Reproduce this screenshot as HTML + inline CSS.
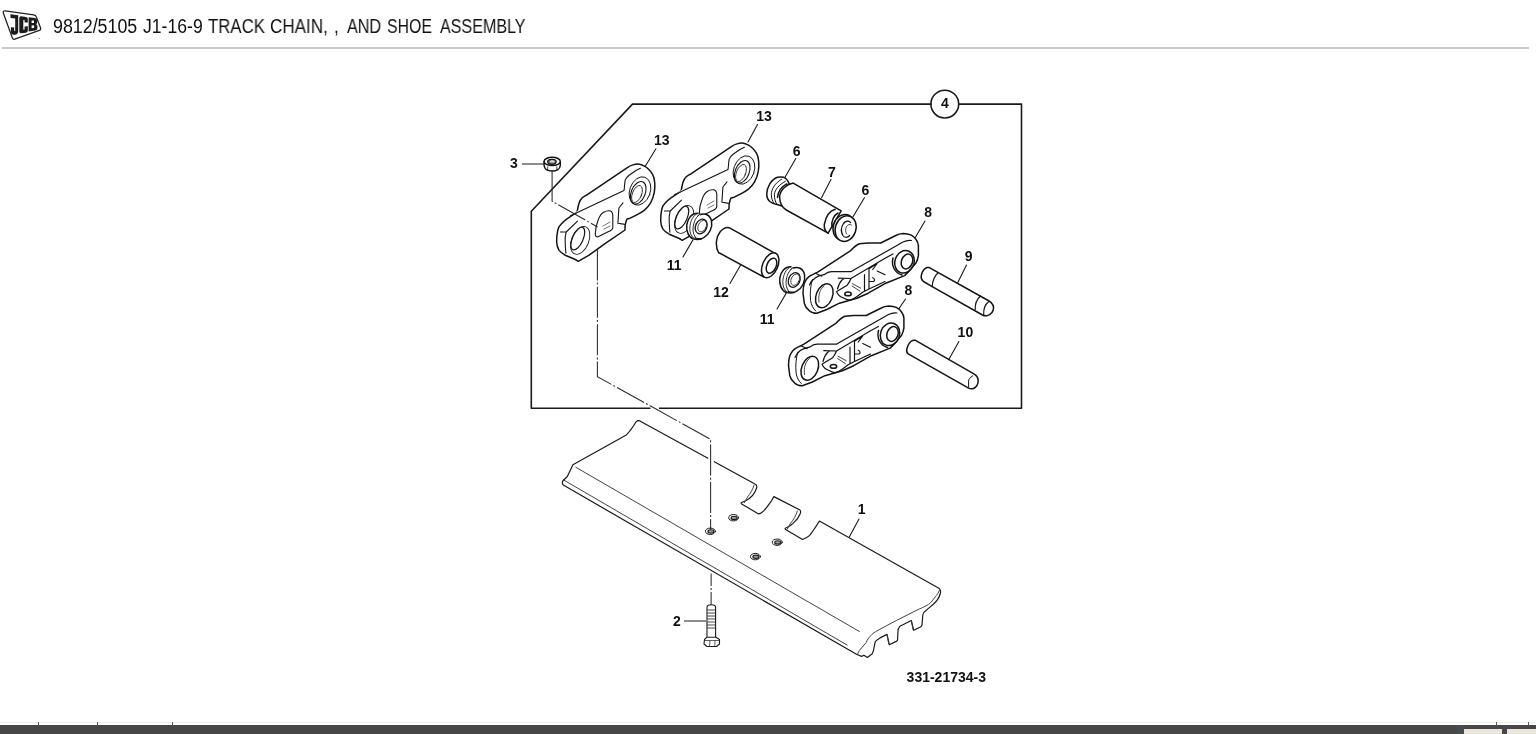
<!DOCTYPE html>
<html><head><meta charset="utf-8">
<style>
html,body{margin:0;padding:0;background:#fff;width:1536px;height:734px;overflow:hidden;position:relative;font-family:"Liberation Sans",sans-serif;}
.tw{position:absolute;top:14.3px;font-size:17.33px;line-height:20px;color:#111;white-space:nowrap;transform-origin:0 0;will-change:transform;}
#hr{position:absolute;left:2px;top:47px;width:1527px;height:2px;background:#c9cac3;}
#bar{position:absolute;left:0;top:725px;width:1536px;height:9px;background:#474747;}
#bl{position:absolute;left:0;top:722px;width:1536px;height:1px;background:#ececec;}
.tk{position:absolute;top:722px;width:1px;height:4px;background:#555;}
.bx{position:absolute;top:729px;height:5px;background:#ebe6da;}
svg{position:absolute;left:0;top:0;}
svg{will-change:transform;}
.t{font-family:"Liberation Sans",sans-serif;font-weight:bold;font-size:14px;fill:#111;}
</style></head><body>
<div class="tw" style="left:53.37px;transform:scale(1.029,1.167)">9812/5105</div>
<div class="tw" style="left:143.40px;transform:scale(1.016,1.167)">J1-16-9</div>
<div class="tw" style="left:207.80px;transform:scale(0.969,1.167)">TRACK</div>
<div class="tw" style="left:270.02px;transform:scale(0.984,1.167)">CHAIN,</div>
<div class="tw" style="left:333.90px;transform:scale(1.000,1.167)">,</div>
<div class="tw" style="left:347.00px;transform:scale(0.933,1.167)">AND</div>
<div class="tw" style="left:387.48px;transform:scale(0.917,1.167)">SHOE</div>
<div class="tw" style="left:440.10px;transform:scale(0.928,1.167)">ASSEMBLY</div>
<div id="hr"></div>
<div id="bl"></div>
<div id="bar"></div>
<div class="tk" style="left:38px"></div>
<div class="tk" style="left:97px"></div>
<div class="tk" style="left:172px"></div>
<div class="tk" style="left:1496px"></div>
<div class="tk" style="left:1528px"></div>
<div class="bx" style="left:1457px;width:7px;top:725px;height:9px;background:#484b4f"></div>
<div class="bx" style="left:1464px;width:38px"></div>
<div class="bx" style="left:1507px;width:29px"></div>
<svg width="1536" height="734" viewBox="0 0 1536 734">
<!-- JCB logo -->
<g>
<path d="M5.3,10.8 L33.6,14.9 Q35.8,15.3 36.4,17 L40.6,28 Q41.2,29.8 39.4,30.4 L14.8,39.2 Q13,39.8 12.4,38 L3.3,13 Q2.8,10.5 5.3,10.8 Z" fill="#fff" stroke="#222" stroke-width="1.25"/>
<g fill="#1c1c1c" fill-rule="evenodd">
<path d="M10.3,14.2 L18.2,15.3 L18.2,31 Q18.2,34.6 14.8,34.8 L13.2,34.8 Q10.8,34.6 10.9,32 L10.9,27.2 L14.2,27.6 L14.2,30.6 Q14.2,31.3 14.8,31.3 Q15.2,31.3 15.2,30.5 L15.2,18.5 L10.6,17.9 Z"/>
<path d="M21,16.3 L26.2,16.9 Q27.8,17.1 27.8,19 L27.8,22.4 L24.6,22.6 L24.6,20.2 Q24.6,19.8 24,19.8 Q23.3,19.8 23.3,20.4 L23.3,29.2 Q23.3,29.8 24,29.8 Q24.6,29.8 24.6,29.1 L24.6,26.6 L27.8,26.2 L27.8,30.8 Q27.8,32.5 26,32.7 L21,33.3 Q19.3,33.5 19.3,31.5 L19.3,18.3 Q19.3,16.1 21,16.3 Z"/>
<path d="M28.6,17.3 L35,18 Q37.2,18.3 37.2,20.8 L37.2,22.5 Q37.2,23.8 36,24.3 Q37.4,24.8 37.4,26.3 L37.4,28.5 Q37.4,30.2 35.4,30.5 L28.6,31.4 Z M31.6,20.4 L33.4,20.6 Q34,20.7 34,21.4 L34,22.4 Q34,23 33.3,23 L31.6,23.1 Z M31.6,25.5 L33.5,25.3 Q34.2,25.3 34.2,26 L34.2,27.3 Q34.2,28 33.5,28.1 L31.6,28.3 Z"/>
</g>
<circle cx="39.2" cy="38.4" r="0.6" fill="#888"/>
</g>
<g fill="none" stroke="#1a1a1a" stroke-width="1.6" stroke-linejoin="round" stroke-linecap="round">
<!-- frame -->
<path d="M931,104.1 L632.5,104.1 L531.3,211.3 L531.3,408.3 L1021.5,408.3 L1021.5,104.1 L958.7,104.1"/>
<circle cx="944.8" cy="104.1" r="13.9"/>
</g>
<g fill="none" stroke="#1a1a1a" stroke-width="1.1" stroke-linejoin="round" stroke-linecap="round">
<!-- leaders -->
<path d="M522.3,164 L544,164 M655.9,148.8 L645.3,166.3 M757.5,124.5 L748,142 M795.8,158.6 L784.3,178.6 M831,179.6 L821.5,197.7 M864.4,197.7 L853,216.8 M925,221 L915,238 M905.5,299 L896,313 M966.5,265.1 L957.8,282.5 M958.9,341.4 L949.1,358.9 M683,257 L692.8,240.1 M730,283.5 L740.6,264.9 M777,309 L786.7,292.4 M859,519 L849.4,536.8 M684.5,621 L705.6,621"/>
</g>
<g id="parts" fill="#fff" stroke="#141414" stroke-width="1.5" stroke-linejoin="round" stroke-linecap="round">
<!-- nut 3 -->
<path d="M544.1,161.5 L544.1,165.5 C544.5,169 548,171 552.2,171 C556.5,171 560,169 560.3,165.5 L560.3,161.5"/>
<ellipse cx="552.2" cy="161.4" rx="8.1" ry="4.1"/>
<ellipse cx="551.9" cy="161.8" rx="4.3" ry="2.5" fill="#777" stroke-width="1.2"/>
<ellipse cx="552.3" cy="161.4" rx="2.4" ry="1.2" fill="#d8d8d8" stroke="none"/>
<path d="M547.8,166.8 L547.6,170.2 M556.8,166.8 L557,170.2" stroke-width="0.8"/>
<!-- link 13 (left) -->
<g id="l13">
<path d="M570.7,216.4 L577,212.1 C578,208 578.3,205 579.1,202.9 C580,200.5 581,199 582.2,197.8 C584,196.2 585.5,195.4 587.3,194.7 L628.1,167.2 C629.5,166 630.8,165.5 632.2,165.1 C634.5,164.4 636.5,164 638.3,164.1 C640.5,164.5 642.5,165.2 644.5,166.1 C646,167 647.5,168 648.6,169.2 C650.2,170.8 651.6,172.5 652.6,174.3 C654,177 654.6,180 654.7,182.5 C655,186 654.8,189.5 654.2,192.7 C653.5,196.5 652.3,200 650.6,202.9 C648.8,206 646.8,208.3 644.5,210.1 C641.8,212.2 639,213.8 636.3,215.2 L630.2,218.2 L627,219 L626.1,221.3 L625.1,225.4 L625,230 L605,243.6 L589.1,255.2 L578.2,261.3 C577,260.5 576,259.8 574.8,259.3 L565.2,255.2 C562.5,253.8 560.5,252.2 559.1,250.4 C557.5,247.8 556.8,245 556.7,242.2 C556.6,238 557,234 557.7,230.7 C558.1,229 558.5,227.7 559.1,226.6 C562.5,222 566.5,219 570.7,216.4 Z"/>
<path d="M560.4,232 L566.2,232 M566.2,232 C565,236 565,240 565.2,242.2 C565.3,246 565.5,250 565.9,253.1 M566.2,232 L577.5,221.1 M570.5,215.8 L624,190.5 C624.5,188 624.6,183.5 625.1,180.4 C626,178 627.5,176.5 629.1,175.3 L636.3,170.2 L640.4,168.2 M623,202.9 L618.9,208 L617.9,223.3 L625.1,224.4" stroke-width="1.1"/>
<ellipse cx="640" cy="191" rx="10.3" ry="14.6" transform="rotate(20 640 191)" stroke-width="0.9"/>
<ellipse cx="638.2" cy="192.8" rx="7" ry="11.8" transform="rotate(22 638.2 192.8)" stroke-width="1.1"/>
<ellipse cx="637" cy="194" rx="4.6" ry="9" transform="rotate(22 637 194)" stroke-width="0.8"/>
<ellipse cx="580.2" cy="240.4" rx="8.6" ry="14.6" transform="rotate(22 580.2 240.4)" stroke-width="0.9"/>
<ellipse cx="577.8" cy="238.6" rx="5.3" ry="12.2" transform="rotate(24 577.8 238.6)" stroke-width="1.2"/>
<path d="M598,220.5 C599.5,216 601.5,213.5 603.6,212.3 C605.5,211.1 607.8,210.6 609.7,210.8 C611.5,211.2 612.6,213 612.8,215.2 L612.8,227.4 C612.5,229.5 611,230.8 608.7,231.5 L598,236.8 C596.3,237.3 595.3,236 595.3,234.3 C595.5,229 596.5,224 598,220.5 Z" stroke-width="1.1"/>
<path d="M603,226 L610,222 M604,229 L610,226" stroke-width="0.6"/>
</g>
<use href="#l13" transform="translate(104,-21)"/>
<!-- seal 11 upper -->
<g id="s11">
<path d="M698,213.3 C692,213 688,218 686.8,224.5 C686,231 688.5,237 693,238.8 C696,239.6 699,239.5 701.5,239"/>
<ellipse cx="701.5" cy="226.4" rx="9.6" ry="12.9" transform="rotate(25 701.5 226.4)"/>
<path d="M697.5,213.6 C693.2,215 690.2,221 689.8,228 C689.6,233 691.5,237 694.5,238.8 M700.5,214 C696.2,216 693.4,222 693,229 C692.9,233 694.3,236.5 696.8,238.6" stroke-width="0.9"/>
<ellipse cx="701.2" cy="226.5" rx="5.6" ry="7.6" transform="rotate(25 701.2 226.5)" stroke-width="1.3"/>
<ellipse cx="702.2" cy="226.2" rx="4" ry="6" transform="rotate(25 702.2 226.2)" stroke-width="0.7"/>
</g>
<use href="#s11" transform="translate(93,53.5)"/>
<!-- bushing 12 -->
<path d="M729.1,227.7 L775.2,253.4 L764.5,277.3 L718.5,252.5 C715,246 716,237 720,232 C723,228.5 726,227 729.1,227.7 Z"/>
<ellipse cx="770.2" cy="265.3" rx="7.5" ry="13.2" transform="rotate(24 770.2 265.3)"/>
<ellipse cx="771.5" cy="265.7" rx="4.6" ry="8" transform="rotate(24 771.5 265.7)"/>
<!-- seal 6 left -->
<path d="M784,177.3 C781.5,176.8 779.5,176.8 777.5,177.2 C771,179.5 767,187 766.7,194.3 C766.8,197.5 768,200 769.8,201.5 C771.8,203.2 774,204 777,204.5 L782,206 L789.5,184.5 C788.3,181 786.3,178.5 784,177.3 Z"/>
<path d="M781.7,179.2 C775,183 771.5,189 771.3,194.3 C771.4,198 772.3,201 773.9,203.1 M785.3,181.3 C778.5,185 775,190 774.4,194.3 C774.4,198.5 775.2,201.5 776.5,203.6" fill="none" stroke-width="1"/>
<path d="M786.8,183.9 C781,187 778,192 777.5,197.4" fill="none" stroke-width="1.5"/>
<!-- pin 7 -->
<path d="M793.2,183.1 L841.2,210.8 L828.1,233.2 L786.3,210 C782,207.5 779.6,203 779.6,196.8 C780,190 786,184.5 793.2,183.1 Z"/>
<path d="M835.2,209.2 C829,211 825.5,218 824.3,224.5 C824,229 826,232 828.1,233.2 M838,213 C834,215 831,221 832,227" fill="none"/>
<!-- seal 6 right -->
<ellipse cx="843.6" cy="227.2" rx="10.3" ry="13" transform="rotate(18 843.6 227.2)"/>
<ellipse cx="845.6" cy="228.6" rx="10.3" ry="13" transform="rotate(18 845.6 228.6)"/>
<path d="M850.5,222.5 C848.5,220.5 845.5,220.8 843.5,223.5 C841.2,227 841,232 842.8,235.5 C844.5,238 847.5,238 849.6,235.5" fill="none" stroke-width="1.3"/>
<path d="M851.5,225 C849.8,223.8 847.8,224.5 846.5,226.5 C845.2,229 845.3,232 846.6,234" fill="none" stroke-width="0.8"/>
<!-- link 8 upper -->
<g id="l8">
<path d="M803,293.2 C803,288 803.5,285.5 804.3,283.2 C806,279.5 808,277 810.5,275.6 L818.1,271.9 L850.7,250.6 C853,248 856,245 859.4,243.7 L868.2,243 L880.7,243 L895.8,235.5 C898,234.3 900,233.8 903.3,233.6 C906,233.7 908.5,234 910.8,234.9 C913,236 915,237.5 915.9,239.3 C917.5,241.5 918.3,243.5 918.4,245.6 L918.4,255.6 C918,258.5 917,261 915.9,263.1 L909.6,270.6 L904.6,275.6 L885.8,283.2 L868.2,293.2 L856.9,298.2 L848.2,300.7 L839.4,303.2 L826.8,309.5 L816.8,313.3 C813.5,313.3 811,312.3 809.3,310.7 C806.5,308.5 805,306 804.3,303.2 Z"/>
<path d="M815.5,273.3 L821.7,276.2 M809.5,285 C812,279 818,275.5 824,274.7 C827,272.5 829,271.8 831.5,271.7 L851,271.7 L854.7,269.5 L885,252.2 L903,242 C906,240.5 909,240 911.5,240.5 M851,278.5 L885,258.2 L893,254 M838.2,278.1 L851,278.5 C850.5,280 849.5,282 847.2,285.2 L836.7,291.6 M837.5,289 C838.5,285 840,282 842,280 L844.5,278.3 M836.7,292 C838,295 840.5,297 843.5,298 C846,299.5 848,300.2 850.2,300.2 C853,299.5 855,298 857,296.5 L863,292 L869,289 L885,281.5 M864.5,274.7 L864.5,290.5 M869,268.7 L869,288.2 M869,268.7 L877.2,263.5 L872.7,269.5 M872.7,277.7 C875,278.5 875,281 873.5,281.5 L869.5,281.5 M877.2,271 L885,274.7" fill="none" stroke-width="1.2"/>
<path d="M812.5,279.5 C810.5,285 809.8,293 810.6,300.5 C811.3,305 813,308.5 815.8,311" fill="none" stroke-width="1"/>
<ellipse cx="824.3" cy="295.7" rx="8.1" ry="12.5" transform="rotate(22 824.3 295.7)"/>
<path d="M819,302 C818,295 820,289 824,286" stroke-width="0.8" fill="none"/>
<path d="M852.5,283.7 L860.7,288.2 M852.1,286 L860,291.2" stroke-width="0.8"/>
<ellipse cx="848" cy="293.9" rx="3.2" ry="1.9"/>
<path d="M893,258 C891,266 895,273 902,275"/>
<ellipse cx="904.5" cy="261.8" rx="9.5" ry="11.5" transform="rotate(20 904.5 261.8)"/>
<ellipse cx="907" cy="261.5" rx="5.5" ry="7.6" transform="rotate(20 907 261.5)"/>
</g>
<use href="#l8" transform="translate(-14.5,72.5)"/>
<!-- pin 9 -->
<path d="M928.9,267.4 L985.5,299 C990,301 993.5,304 993.6,307.5 C993.4,311 991,314.5 987.5,315.6 C985.5,316 984,315.8 982.5,315 L932.2,286.6 L923.5,281.5 C921.5,280 921,277.5 921.3,275.5 C922,271.5 924.5,268.5 927,267.5 Z"/>
<path d="M937.9,273 C934.5,276 932.5,281.5 932.2,286.6 M980.4,296 C976.5,299.5 975,304.5 975.2,309.5 M988.5,301.7 C985.5,304 983.5,309 983.7,314.5" fill="none" stroke-width="1.2"/>
<!-- pin 10 -->
<path d="M915.5,340.3 L974.3,374.2 C976.5,375.5 978,377.5 978.2,380 C978.3,383.5 976.5,387 973.5,388.5 C971.5,389.2 970,388.8 968.6,388.1 L908.2,353.8 C906.5,352.5 906.3,350.5 906.9,348.5 C907.5,345.5 909,343.3 910.8,341.5 C912.2,340.4 913.8,340 915.5,340.3 Z"/>
<path d="M972.7,375.8 C970,377.5 968.5,379.5 968.6,381 L968.6,387.3" fill="none" stroke-width="1"/>
</g>
<!-- track shoe 1 -->
<g fill="#fff" stroke="#1a1a1a" stroke-width="1.2" stroke-linejoin="round" stroke-linecap="round">
<path d="M639.4,420.7 L754.5,483.8 C756.5,484.5 757,486.5 756.6,488 C755,493 751,498 746,500.5 L741.2,502.7 L741.2,503.7 L758.6,513.9 C760.5,513.5 762,512.5 763.7,510.9 C766.5,508 769,504.5 770.9,501.7 L773.9,496.6 L799.5,509.8 C800.8,510.5 800.8,512 800.3,513.5 C799,517 797,520 793.3,523.1 C790.5,525.5 787.5,527.5 785.2,528.2 L785.2,529.2 L802.5,539.5 C805,538.5 807.5,537.5 809.7,535.4 C812.5,532 814.5,528.5 816.8,525.2 L819.4,521.1 L939.3,588.5 C940.5,590 940.8,592 940.3,593.5 C939.5,597 937,601 933.3,604.3 L926.4,610.1 C924.5,611.5 923.2,613 922.8,615 L922,625 C921.5,626.5 920.5,627.3 919.4,627.5 L913.7,630.3 L911.3,620.5 L904.4,624 L899.8,626.3 C898.5,628 898,630 898,631 L897.5,640.2 C897,641.2 896,641.6 895.1,641.9 L889.4,644.8 L887,634.4 L880.1,637.9 L876.6,640.2 C875.5,641 875,642 874.9,643.1 L873.7,649.4 C873.3,651.5 872.7,653 872,654.1 L867.4,657.5 L863.9,655.2 L861.6,656.4 L856.9,654.5 L564.2,485.6 C562,484.5 561.8,482 563.2,480.5 L567.3,476.5 L570.3,470.3 L572.9,464.7 L626.3,434.9 C630,431.5 633,427 636.1,421.8 C637,420.8 638,420.4 639.4,420.7 Z"/>
<path d="M563.7,480 L847.2,645.1 M575.9,467.3 L859.4,631.5 M754,485.3 C753,489 750.5,493.5 747.5,497 L744.3,502.7 M797.4,510.9 C796,515.5 793.5,520 790,524 L787.2,529.2 M939.5,590 C938.5,593 937,595 935.6,596.2 C933,600 931,602.5 928.7,604.3 C925,606.5 922,608 919.4,608.9 L896.3,620.5 L878.9,629.8 C875,632 872.5,633.5 870.8,635.6 C868.5,638 867,640 866.2,642.5 L859.3,650.6 L857.5,654 M911.3,620.5 L913.1,629.8 M887,634.4 L888.8,644.2" stroke-width="0.95" stroke="#3a3a3a"/>
<g stroke-width="1">
<ellipse cx="733.6" cy="517.7" rx="5" ry="3.2"/><ellipse cx="734.1" cy="517.9000000000001" rx="3" ry="1.7" stroke-width="1.1" fill="#9a9a9a"/>
<ellipse cx="710.4" cy="531.3" rx="5" ry="3.2"/><ellipse cx="710.9" cy="531.5" rx="3" ry="1.7" stroke-width="1.1" fill="#9a9a9a"/>
<ellipse cx="777.2" cy="542.2" rx="5" ry="3.2"/><ellipse cx="777.7" cy="542.4000000000001" rx="3" ry="1.7" stroke-width="1.1" fill="#9a9a9a"/>
<ellipse cx="755.4" cy="556.6" rx="5" ry="3.2"/><ellipse cx="755.9" cy="556.8000000000001" rx="3" ry="1.7" stroke-width="1.1" fill="#9a9a9a"/>
</g>
</g>
<!-- bolt 2 -->
<g fill="#fff" stroke="#1a1a1a" stroke-width="1.1" stroke-linejoin="round">
<path d="M707,637.7 L707,607.5 C707,605.5 709,604.8 711.3,604.8 C713.6,604.8 715.6,605.5 715.6,607.5 L715.6,637.7"/>
<path d="M707.3,610 L715.3,610 M707.3,613 L715.3,613 M707.3,616 L715.3,616 M707.3,619 L715.3,619 M707.3,622 L715.3,622 M707.3,625 L715.3,625 M707.3,628 L715.3,628" stroke-width="0.8"/>
<path d="M704.5,639.5 L707,637.2 L716,637.2 L719.5,639.5 L719.5,644 L716.5,646.5 L707,646.5 L704,644 Z"/>
<path d="M704.5,640.5 L719.5,640.5 M710,640.5 L709.5,646.5 M715,640.5 L714.8,646.5" stroke-width="0.7"/>
</g>
<!-- dash-dot lines -->
<path d="M650.5,408.3 L659,408.3 M708.2,458.4 L713.8,461.5" stroke="#fff" stroke-width="3" fill="none"/>
<g fill="none" stroke="#2a2a2a" stroke-width="1.05" stroke-dasharray="31 2.2 2 2.2">
<path d="M552.1,171 L552.1,201.2 L597.6,227"/>
<path d="M597.4,249.4 L597.4,376.6 L710.6,439.3 L710.6,529.5"/>
<path d="M711.1,573.6 L711.1,605" stroke-dasharray="12.5 2 2 2 30"/>
</g>
<g class="t" text-anchor="middle">
<text x="944.8" y="108.1" font-size="14px">4</text>
<text x="514" y="168.4">3</text>
<text x="661.7" y="144.9">13</text>
<text x="764" y="120.6">13</text>
<text x="796.7" y="155.5">6</text>
<text x="832" y="176.5">7</text>
<text x="865.4" y="194.5">6</text>
<text x="928.2" y="216.9">8</text>
<text x="908.4" y="294.9">8</text>
<text x="968.7" y="260.9">9</text>
<text x="965.4" y="337.2">10</text>
<text x="674.2" y="270.3">11</text>
<text x="721.1" y="296.9">12</text>
<text x="767.2" y="323.5">11</text>
<text x="861.7" y="514">1</text>
<text x="677" y="625.8">2</text>
<text x="946.3" y="681.6" font-size="14px">331-21734-3</text>
</g>
</svg>
</body></html>
